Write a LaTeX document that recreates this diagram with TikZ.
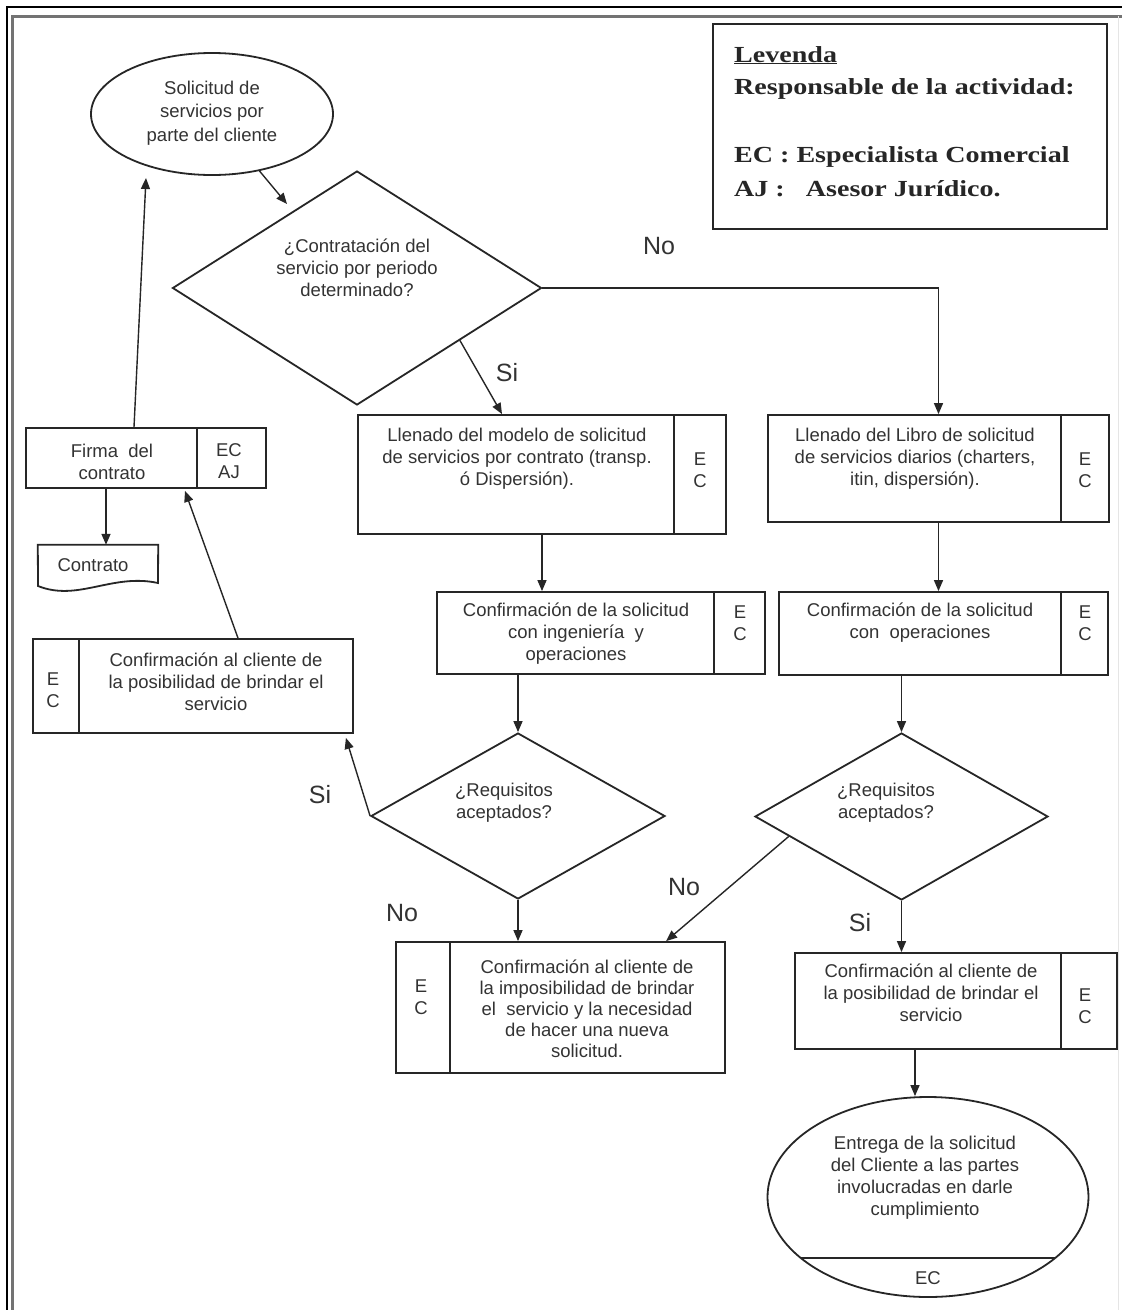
\documentclass[tikz,border=0pt]{standalone}
\usepackage{fontspec}
\setmainfont{Liberation Sans}
\newfontfamily\legfont{Liberation Serif}[FakeStretch=1.22]
\usetikzlibrary{shapes.geometric,arrows.meta,calc}

\begin{document}
\begin{tikzpicture}[x=1pt,y=-1pt,
  shp/.style={draw=black!85, line width=1.8pt, inner sep=0pt},
  box/.style={shp, rectangle},
  dia/.style={shp, diamond},
  ell/.style={shp, ellipse},
  sepline/.style={draw=black!85, line width=1.8pt},
  arr/.style={draw=black!85, line width=1.4pt, -{Triangle[length=11pt,width=9pt]}},
  txt/.style={font=\fontsize{18.5}{22}\selectfont, align=center, inner sep=0pt, text=black!80},
  lab/.style={font=\fontsize{25}{28}\selectfont, inner sep=0pt, text=black!80},
  leg/.style={font=\legfont\bfseries\fontsize{23}{27}\selectfont, anchor=base west, inner sep=0pt, text=black!85}]

% page
\useasboundingbox (0,0) rectangle (1122,1310);
\fill[white] (0,0) rectangle (1122,1310);

% frame
\draw[line width=2.6pt, black] (7,1310) -- (7,7) -- (1122,7);
\draw[line width=3pt, black!55] (12,1310) -- (12,16) -- (1122,16);
\draw[line width=1pt, black!10] (1118,16) -- (1118,1310);

% legend
\node[box, line width=2.2pt, minimum width=394pt, minimum height=205pt] (LG) at (910,126.5) {};
\node[leg] (lg1) at (734,62) {\underline{Levenda}};
\node[leg] (lg2) at (734,94) {Responsable de la actividad:};
\node[leg] (lg3) at (734,162) {EC : Especialista Comercial};
\node[leg] (lg4) at (734,196) {AJ :\ \ \ Asesor Jurídico.};

% start
\node[ell, minimum width=242pt, minimum height=122pt] (E1) at (212,114) {};
\node[txt, font=\fontsize{18.5}{23.5}\selectfont] (E1t) at (212,113) {Solicitud de\\servicios por\\parte del cliente};

% first decision
\node[dia, minimum width=369pt, minimum height=234pt] (D1) at (357,288) {};
\node[txt] (D1t) at (357,268) {¿Contratación del\\servicio por periodo\\determinado?};

% contract branch
\node[box, minimum width=368pt, minimum height=119pt] (B1) at (542,474.5) {};
\draw[sepline] ([xshift=317pt]B1.north west) -- ([xshift=317pt]B1.south west);
\node[txt] (B1t) at (517,459) {Llenado del modelo de solicitud\\de servicios por contrato (transp.\\ó Dispersión).};
\node[txt] (B1s) at (700,470) {E\\C};

\node[box, minimum width=328pt, minimum height=82pt] (C1) at (601,633) {};
\draw[sepline] ([xshift=278pt]C1.north west) -- ([xshift=278pt]C1.south west);
\node[txt] (C1t) at (576,634) {Confirmación de la solicitud\\con ingeniería\ \ y\\operaciones};
\node[txt] (C1s) at (740,623) {E\\C};

\node[dia, minimum width=294pt, minimum height=166pt] (D2) at (518,816) {};
\node[txt] (D2t) at (504,802.5) {¿Requisitos\\aceptados?};

\node[box, minimum width=329pt, minimum height=131pt] (R1) at (560.5,1007.5) {};
\draw[sepline] ([xshift=55pt]R1.north west) -- ([xshift=55pt]R1.south west);
\node[txt, font=\fontsize{18.5}{21}\selectfont] (R1t) at (587,1009) {Confirmación al cliente de\\la imposibilidad de brindar\\el\ \ servicio y la necesidad\\de hacer una nueva\\solicitud.};
\node[txt] (R1s) at (421,997.5) {E\\C};

% daily branch
\node[box, minimum width=341pt, minimum height=107pt] (B2) at (938.5,468.5) {};
\draw[sepline] ([xshift=294pt]B2.north west) -- ([xshift=294pt]B2.south west);
\node[txt] (B2t) at (915,459) {Llenado del Libro de solicitud\\de servicios diarios (charters,\\itin, dispersión).};
\node[txt] (B2s) at (1085,470) {E\\C};

\node[box, minimum width=329pt, minimum height=83pt] (C2) at (943.5,633.5) {};
\draw[sepline] ([xshift=283pt]C2.north west) -- ([xshift=283pt]C2.south west);
\node[txt] (C2t) at (920,623) {Confirmación de la solicitud\\con\ \ operaciones};
\node[txt] (C2s) at (1085,623) {E\\C};

\node[dia, minimum width=293pt, minimum height=167pt] (D3) at (901.5,816.5) {};
\node[txt] (D3t) at (886,803) {¿Requisitos\\aceptados?};

\node[box, minimum width=322pt, minimum height=96pt] (R2) at (956,1001) {};
\draw[sepline] ([xshift=267pt]R2.north west) -- ([xshift=267pt]R2.south west);
\node[txt] (R2t) at (931,993) {Confirmación al cliente de\\la posibilidad de brindar el\\servicio};
\node[txt] (R2s) at (1085,1006) {E\\C};

\node[ell, minimum width=321pt, minimum height=200pt] (E2) at (928,1197) {};
\draw[sepline] ([xshift=-127pt,yshift=-61pt]E2.center) -- ([xshift=127pt,yshift=-61pt]E2.center);
\node[txt] (E2t) at (925,1178) {Entrega de la solicitud\\del Cliente a las partes\\involucradas en darle\\cumplimiento};
\node[txt] (E2s) at (928,1278) {EC};

% left column: acceptance and contract
\node[box, minimum width=320pt, minimum height=94pt] (L) at (193,686) {};
\draw[sepline] ([xshift=47pt]L.north west) -- ([xshift=47pt]L.south west);
\node[txt] (Lt) at (216,682) {Confirmación al cliente de\\la posibilidad de brindar el\\servicio};
\node[txt] (Ls) at (53,690) {E\\C};

\node[box, minimum width=240pt, minimum height=60pt] (F) at (146,458) {};
\draw[sepline] ([xshift=172pt]F.north west) -- ([xshift=172pt]F.south west);
\node[txt] (Ft) at (112,461.5) {Firma\ \ del\\contrato};
\node[txt] (Fs) at (229,461.5) {EC\\AJ};

% document shape
\node[inner sep=0pt, minimum width=120pt, minimum height=42pt] (K) at (98,566) {};
\draw[sepline] (K.north west) -- (K.north east) -- (158,583)
  .. controls (112,573) and (78,602) .. (38,586) -- cycle;
\node[txt] (Kt) at (93,565) {Contrato};

% connectors
\draw[arr, shorten >=9pt] (E1) -- (D1);
\draw[arr] (D1.-27) -- ([xshift=-40pt]B1.north);
\draw[arr] (D1.east) -| (B2.north);
\draw[arr] (B1.south) -- (B1.south |- C1.north);
\draw[arr] (B2.south) -- (B2.south |- C2.north);
\draw[arr] (D2.north |- C1.south) -- (D2.north);
\draw[arr] (D3.north |- C2.south) -- (D3.north);
\draw[arr] (D2.south) -- (D2.south |- R1.north);
\draw[arr] (D3.south) -- (D3.south |- R2.north);
\draw[arr] (D3.190) -- ([xshift=271pt]R1.north west);
\draw[arr] (D2.west) -- ([xshift=-8pt,yshift=-4pt]L.south east);
\draw[arr] ([xshift=45pt]L.north) -- ([xshift=39pt,yshift=-2pt]F.south);
\draw[arr] ([xshift=-12pt]F.north) -- ([xshift=-66pt,yshift=-64pt]E1.center);
\draw[arr] ([xshift=-40pt]F.south) -- ([xshift=-40pt]F.south |- K.north);
\draw[arr] ([xshift=-41pt]R2.south) -- ([xshift=-41pt]R2.south |- E2.north);

% branch labels
\node[lab] (l1) at (659,246) {No};
\node[lab] (l2) at (507,373) {Si};
\node[lab] (l3) at (320,795) {Si};
\node[lab] (l4) at (402,913) {No};
\node[lab] (l5) at (684,887) {No};
\node[lab] (l6) at (860,923) {Si};
\end{tikzpicture}
\end{document}
